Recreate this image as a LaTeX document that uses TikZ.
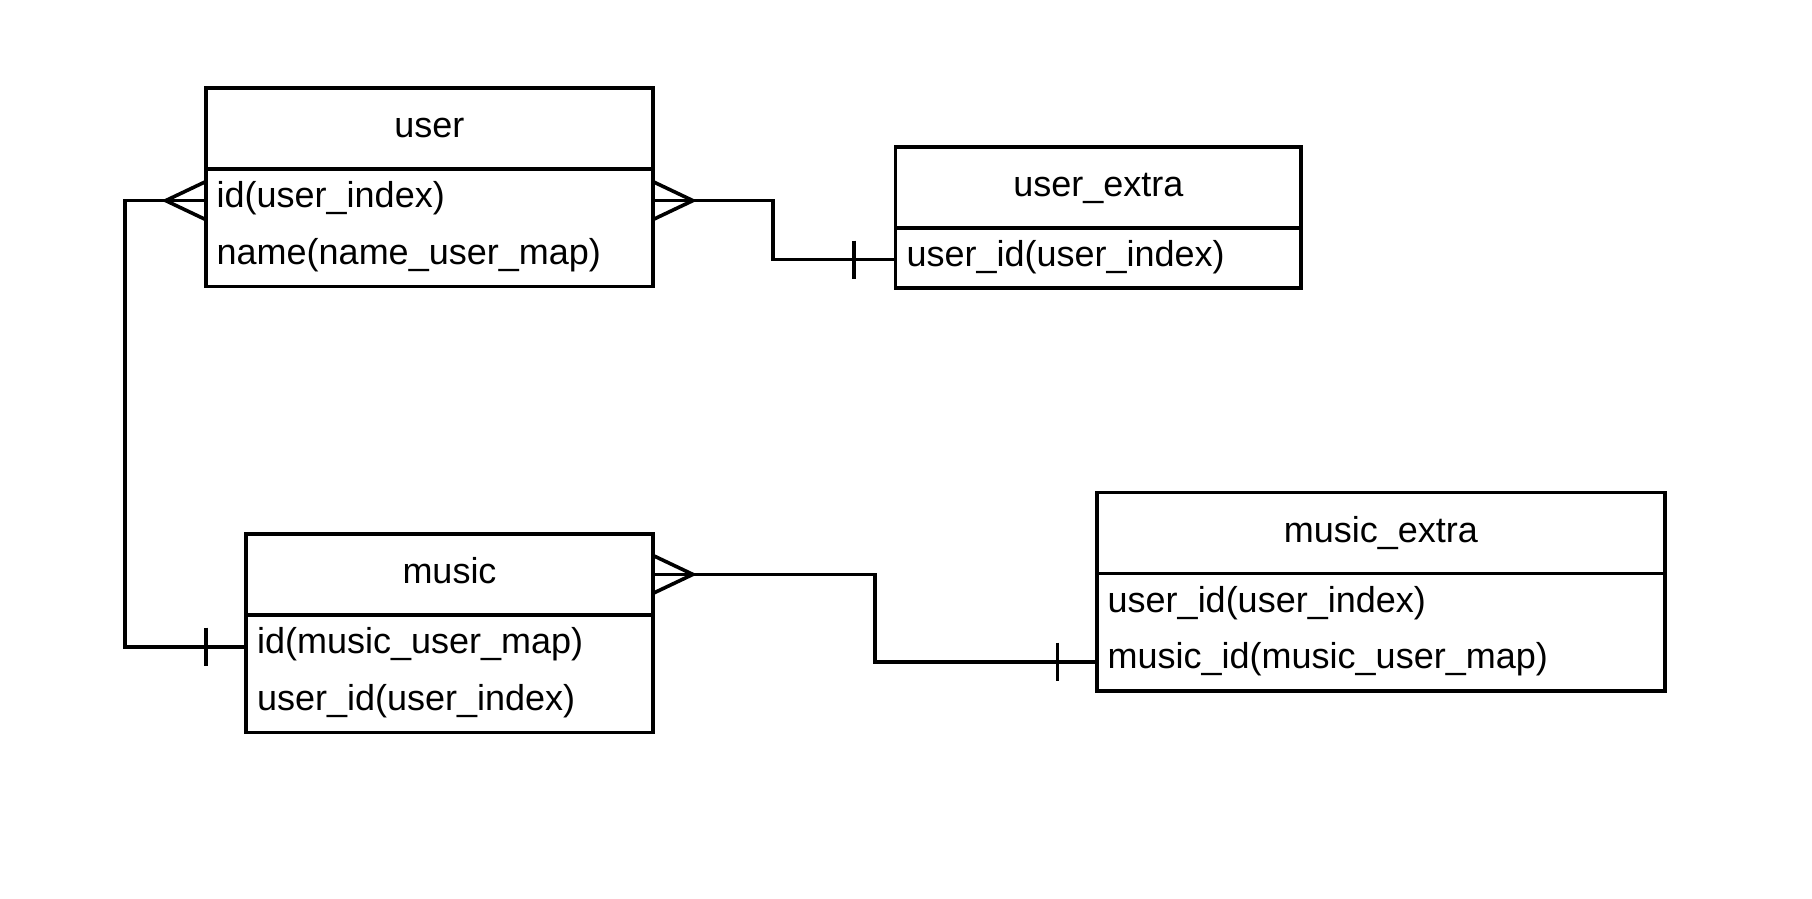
\documentclass[tikz,border=0pt]{standalone}
\usepackage{fontspec}
\setmainfont{Liberation Sans}
\usetikzlibrary{positioning}

\begin{document}
\begin{tikzpicture}[x=1pt, y=-1pt, line width=3.6pt, every node/.style={font=\fontsize{36}{43}\selectfont}]
		\tikzstyle{head}=[draw, rectangle, anchor=north west, minimum height=81pt, inner sep=0pt, outer sep=0pt, text height=26pt, text depth=7.4pt]
		\tikzstyle{body}=[draw, rectangle, inner sep=0pt, outer sep=0pt]
		\tikzstyle{field}=[rectangle, anchor=north west, minimum height=56.6pt, inner xsep=11pt, inner ysep=0pt, outer sep=0pt, align=left, text height=24pt, text depth=10pt]
		\useasboundingbox (0,0) rectangle (1812,898);
		% tables
		\node[head, minimum width=447.2pt] (user) at (205.7,87.8) {user};
		\node[body, minimum width=447.2pt, minimum height=117.5pt, below=0pt of user] (userbody) {};
		\node[field, text width=425.2pt] (userid) at ([yshift=-3.5pt]userbody.north west) {id(user\_index)};
		\node[field, text width=425.2pt, below=0pt of userid] (username) {name(name\_user\_map)};
		\node[head, minimum width=405.6pt] (uext) at (895.6,146.8) {user\_extra};
		\node[body, minimum width=405.6pt, minimum height=60pt, below=0pt of uext] (uextbody) {};
		\node[field, text width=383.6pt] (uextuid) at ([yshift=-3.5pt]uextbody.north west) {user\_id(user\_index)};
		\node[head, minimum width=406.8pt] (music) at (246.1,533.9) {music};
		\node[body, minimum width=406.8pt, minimum height=117.5pt, below=0pt of music] (musicbody) {};
		\node[field, text width=384.8pt] (musicid) at ([yshift=-3.5pt]musicbody.north west) {id(music\_user\_map)};
		\node[field, text width=384.8pt, below=0pt of musicid] (musicuid) {user\_id(user\_index)};
		\node[head, minimum width=568.5pt] (mext) at (1096.7,492.3) {music\_extra};
		\node[body, minimum width=568.5pt, minimum height=117.5pt, below=0pt of mext] (mextbody) {};
		\node[field, text width=546.5pt] (mextuid) at ([yshift=-3.5pt]mextbody.north west) {user\_id(user\_index)};
		\node[field, text width=546.5pt, below=0pt of mextuid] (mextmid) {music\_id(music\_user\_map)};
		% user -- music
		\draw (userid.west) -- ++(-81,0) |- (musicid.west);
		\draw ([yshift=19pt]userid.west) -- ([xshift=-40pt]userid.west) -- ([yshift=-19pt]userid.west);
		\draw ([xshift=-40pt,yshift=19pt]musicid.west) -- ([xshift=-40pt,yshift=-19pt]musicid.west);
		% user -- user_extra
		\draw (userid.east) -- ++(120.2,0) |- (uextuid.west);
		\draw ([yshift=19pt]userid.east) -- ([xshift=40pt]userid.east) -- ([yshift=-19pt]userid.east);
		\draw ([xshift=-41.6pt,yshift=19pt]uextuid.west) -- ([xshift=-41.6pt,yshift=-19pt]uextuid.west);
		% music -- music_extra
		\draw (music.east) -- ++(221.9,0) |- (mextmid.west);
		\draw ([yshift=19pt]music.east) -- ([xshift=40pt]music.east) -- ([yshift=-19pt]music.east);
		\draw ([xshift=-39.3pt,yshift=19pt]mextmid.west) -- ([xshift=-39.3pt,yshift=-19pt]mextmid.west);
	\end{tikzpicture}
\end{document}
